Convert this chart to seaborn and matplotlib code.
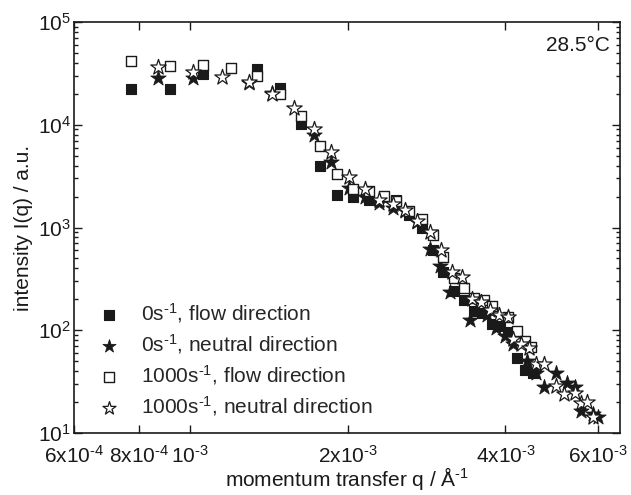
import numpy as np
import pandas as pd
import matplotlib
matplotlib.use("Agg")
import matplotlib.pyplot as plt
import matplotlib.ticker as mticker
import seaborn as sns

# ---- data ----
q_flow0 = [7.72e-4, 9.15e-4, 1.057e-3, 1.343e-3, 1.484e-3, 1.626e-3, 1.769e-3, 1.911e-3,
           2.050e-3, 2.198e-3, 2.476e-3, 2.622e-3, 2.772e-3, 2.906e-3, 3.046e-3, 3.184e-3,
           3.327e-3, 3.477e-3, 3.613e-3, 3.764e-3, 3.899e-3, 4.039e-3, 4.203e-3, 4.353e-3,
           4.516e-3]
I_flow0 = [22100, 22100, 30900, 34600, 22600, 10100, 3930, 2080,
           1965, 1862, 1862, 1331, 989, 609, 370, 240,
           199, 154, 148, 114, 110, 96.7, 54.1, 40.7,
           38.7]

q_neut0 = [8.69e-4, 1.011e-3, 1.294e-3, 1.434e-3, 1.727e-3, 1.861e-3, 2.012e-3, 2.160e-3,
           2.296e-3, 2.435e-3, 2.576e-3, 2.712e-3, 2.876e-3, 3.002e-3, 3.138e-3, 3.427e-3,
           3.688e-3, 3.843e-3, 3.998e-3, 4.143e-3, 4.398e-3, 4.576e-3, 4.730e-3, 5.007e-3,
           5.233e-3, 5.428e-3, 5.586e-3, 5.869e-3, 6.000e-3]
I_neut0 = [28270, 28270, 25690, 20220, 7960, 4300, 2434, 1978,
           1729, 1546, 1437, 1131, 622, 420, 236, 126,
           142, 106, 87.9, 72.8, 50.2, 38.1, 28.1, 38.7,
           30.9, 28.1, 16.4, 15.2, 14.4]

q_flow1000 = [7.72e-4, 9.15e-4, 1.057e-3, 1.199e-3, 1.343e-3, 1.484e-3, 1.626e-3, 1.769e-3,
              1.911e-3, 2.050e-3, 2.198e-3, 2.341e-3, 2.476e-3, 2.622e-3, 2.772e-3, 2.906e-3,
              3.046e-3, 3.184e-3, 3.327e-3, 3.477e-3, 3.634e-3, 3.764e-3, 4.039e-3, 4.203e-3,
              4.353e-3, 4.484e-3]
I_flow1000 = [42000, 37570, 38070, 35350, 29560, 19770, 12170, 6180,
              3330, 2350, 2246, 2009, 1796, 1456, 1209, 840,
              517, 323, 259, 207, 199, 172, 135, 98.2,
              78.6, 69.2]

q_neut1000 = [8.69e-4, 1.011e-3, 1.152e-3, 1.294e-3, 1.434e-3, 1.580e-3, 1.727e-3, 1.861e-3,
              2.012e-3, 2.160e-3, 2.296e-3, 2.435e-3, 2.576e-3, 2.712e-3, 2.876e-3, 3.015e-3,
              3.166e-3, 3.303e-3, 3.457e-3, 3.586e-3, 3.731e-3, 3.882e-3, 4.039e-3, 4.143e-3,
              4.277e-3, 4.437e-3, 4.576e-3, 4.730e-3, 5.007e-3, 5.178e-3, 5.428e-3, 5.586e-3,
              5.715e-3, 5.869e-3]
I_neut1000 = [36160, 32330, 29360, 26270, 19770, 14690, 9040, 5370,
              3107, 2350, 1837, 1691, 1489, 1164, 898, 609,
              370, 328, 202, 188, 157, 142, 135, 81.4,
              72.8, 67.6, 47.3, 47.3, 28.7, 24.2, 24.7, 19.8,
              20.2, 14.4]

series_labels = [r"0s$^{\text{-1}}$, flow direction",
                 r"0s$^{\text{-1}}$, neutral direction",
                 r"1000s$^{\text{-1}}$, flow direction",
                 r"1000s$^{\text{-1}}$, neutral direction"]

x_ticks = [6e-4, 8e-4, 1e-3, 2e-3, 4e-3, 6e-3]
x_ticklabels = [r"6x10$^{\text{-4}}$", r"8x10$^{\text{-4}}$", r"10$^{\text{-3}}$",
                r"2x10$^{\text{-3}}$", r"4x10$^{\text{-3}}$", r"6x10$^{\text{-3}}$"]
y_ticks = [1e1, 1e2, 1e3, 1e4, 1e5]
y_ticklabels = [r"10$^{1}$", r"10$^{2}$", r"10$^{3}$", r"10$^{4}$", r"10$^{5}$"]

# ---- style ----
sns.set_style("ticks")
plt.rcParams['font.family'] = ['Liberation Sans', 'DejaVu Sans']
plt.rcParams['mathtext.default'] = 'regular'
plt.rcParams['mathtext.fontset'] = 'custom'
plt.rcParams['mathtext.rm'] = 'Liberation Sans'
plt.rcParams['mathtext.it'] = 'Liberation Sans:italic'
plt.rcParams['axes.unicode_minus'] = False

FS = 15
INK = "#1a1a1a"

fig = plt.figure(figsize=(6.31, 4.95), dpi=100)
ax = fig.add_axes([74/631, 1-433/495, (620-74)/631, (433-22)/495])

frames = []
for q, I, lab in [(q_flow0, I_flow0, series_labels[0]),
                  (q_neut0, I_neut0, series_labels[1]),
                  (q_flow1000, I_flow1000, series_labels[2]),
                  (q_neut1000, I_neut1000, series_labels[3])]:
    frames.append(pd.DataFrame({"q": q, "I": I, "series": lab}))
df = pd.concat(frames, ignore_index=True)

styles = {
    series_labels[0]: dict(marker="s", s=60, facecolor=INK, edgecolor=INK, linewidth=0.8),
    series_labels[1]: dict(marker="*", s=135, facecolor=INK, edgecolor=INK, linewidth=0.6),
    series_labels[2]: dict(marker="s", s=60, facecolor="white", edgecolor=INK, linewidth=1.0),
    series_labels[3]: dict(marker="*", s=135, facecolor="white", edgecolor=INK, linewidth=0.9),
}
for lab in series_labels:
    st = styles[lab]
    sns.scatterplot(data=df[df["series"] == lab], x="q", y="I", ax=ax,
                    marker=st["marker"], s=st["s"], color=st["facecolor"],
                    edgecolor=st["edgecolor"], linewidth=st["linewidth"],
                    label=lab, zorder=3)

ax.set_xscale("log")
ax.set_yscale("log")
ax.set_xlim(6e-4, 6.62e-3)
ax.set_ylim(10, 1e5)

ax.xaxis.set_major_locator(mticker.FixedLocator(x_ticks))
ax.xaxis.set_major_formatter(mticker.FixedFormatter(x_ticklabels))
ax.xaxis.set_minor_locator(mticker.NullLocator())
ax.yaxis.set_major_locator(mticker.FixedLocator(y_ticks))
ax.yaxis.set_major_formatter(mticker.FixedFormatter(y_ticklabels))
ax.yaxis.set_minor_locator(mticker.LogLocator(base=10, subs=np.arange(2, 10), numticks=20))

ax.tick_params(which="both", direction="in", top=True, right=True, labelsize=FS,
               width=1.0, color=INK, labelcolor=INK)
ax.tick_params(which="major", length=6)
ax.tick_params(which="minor", length=3)
ax.tick_params(axis="x", which="major", pad=8.5)
ax.tick_params(axis="y", which="major", pad=2)
for sp in ax.spines.values():
    sp.set_linewidth(1.2)
    sp.set_color(INK)

ax.set_xlabel(r"momentum transfer q / Å$^{\text{-1}}$", fontsize=FS, color=INK, labelpad=-1.5)
ax.set_ylabel("intensity I(q) / a.u.", fontsize=FS, color=INK, labelpad=4)

ax.text(0.982, 0.965, "28.5°C", transform=ax.transAxes, ha="right", va="top",
        fontsize=FS, color=INK)

leg = ax.legend(loc="lower left", frameon=False, fontsize=FS, handletextpad=0.5,
                labelspacing=0.35, borderaxespad=0.3, markerscale=0.85,
                bbox_to_anchor=(0.0, 0.0))

fig.savefig("out.png", dpi=100)
